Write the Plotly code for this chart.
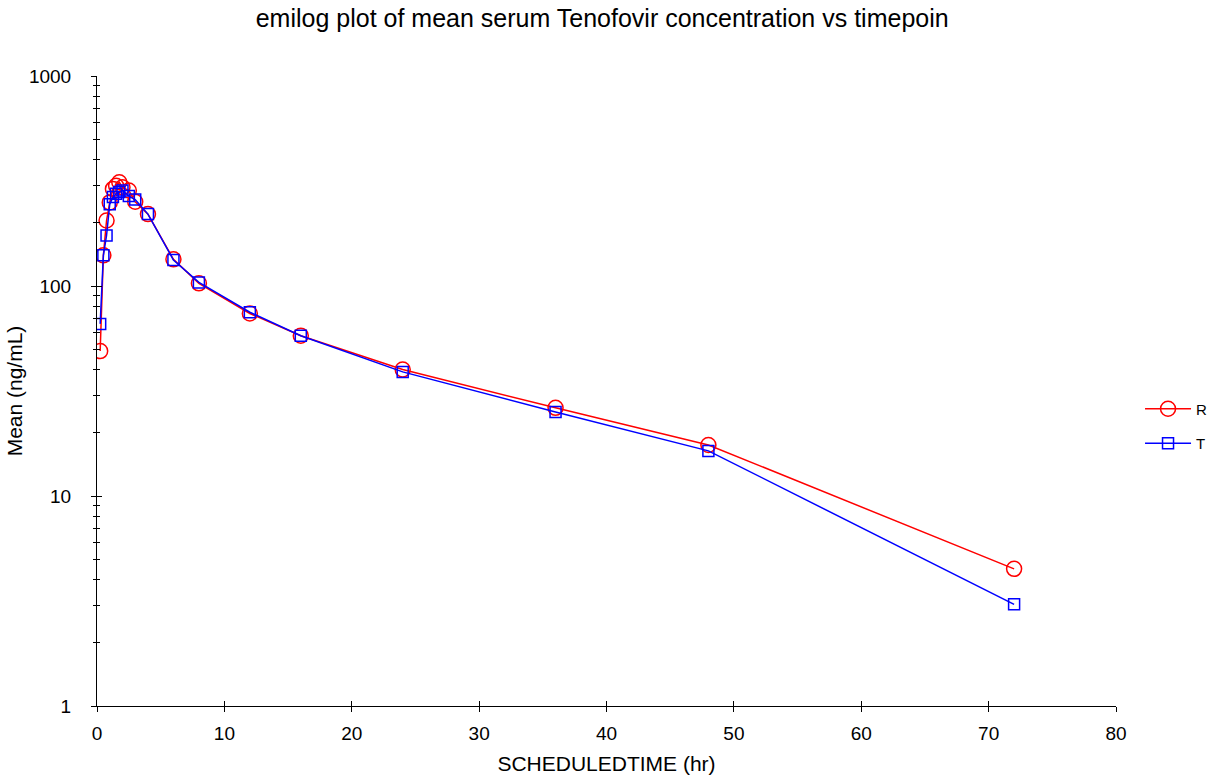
import plotly.graph_objects as go

# Sampling times (hr) and mean serum concentrations (ng/mL)
time_hr = [0.25, 0.5, 0.75, 1, 1.25, 1.5, 1.75, 2, 2.5, 3, 4, 6, 8, 12, 16, 24, 36, 48, 72]
mean_r = [49, 140, 205, 250, 290, 300, 312, 295, 285, 252, 220, 134, 103, 74, 58, 40, 26.3, 17.5, 4.5]
mean_t = [66, 140, 174, 245, 265, 275, 280, 285, 268, 258, 220, 133, 104, 75, 58, 39, 25.1, 16.4, 3.05]

x_ticks = [0, 10, 20, 30, 40, 50, 60, 70, 80]
y_ticks = [1, 10, 100, 1000]

FONT = "Liberation Sans, Arial, sans-serif"

# minor log ticks at 2..9 of every decade
y_minor = [m * d for d in (1, 10, 100) for m in range(2, 10)]

fig = go.Figure()
fig.add_trace(go.Scatter(
    x=time_hr, y=mean_r, name="R", mode="lines+markers",
    line=dict(color="#ff0000", width=1.5),
    marker=dict(symbol="circle-open", size=15, color="#ff0000", line=dict(width=1.5)),
    legendgroup="R",
))
fig.add_trace(go.Scatter(
    x=time_hr, y=mean_t, name="T", mode="lines+markers",
    line=dict(color="#0000ff", width=1.5),
    marker=dict(symbol="square-open", size=11, color="#0000ff", line=dict(width=1.5)),
    legendgroup="T",
))
# empty trace so the inner-tick overlay axes get drawn
fig.add_trace(go.Scatter(x=[], y=[], xaxis="x2", yaxis="y2", showlegend=False, hoverinfo="skip"))

axis_common = dict(showgrid=False, zeroline=False, linecolor="black", linewidth=1,
                   tickcolor="black", tickwidth=1, automargin=False)

fig.update_layout(
    width=1224, height=780,
    margin=dict(l=97, r=108, t=76, b=74),
    paper_bgcolor="white", plot_bgcolor="white",
    font=dict(family=FONT, color="black", size=19),
    title=dict(text="emilog plot of mean serum Tenofovir concentration vs timepoin",
               x=0.492, xanchor="center", y=0.977, yanchor="middle",
               font=dict(size=25, family=FONT, color="black")),
    xaxis=dict(range=[0, 80], tickvals=x_ticks, ticks="outside", ticklen=5,
               ticklabelstandoff=5,
               title=dict(text="SCHEDULEDTIME (hr)", standoff=13, font=dict(size=21)),
               showline=True, **axis_common),
    yaxis=dict(type="log", range=[0, 3], tickvals=y_ticks, ticktext=[str(v) for v in y_ticks],
               ticks="outside", ticklen=5, ticklabelstandoff=16,
               minor=dict(ticks="outside", ticklen=3, tickcolor="black", showgrid=False,
                          tickmode="array", tickvals=y_minor),
               title=dict(text="Mean (ng/mL)", standoff=0, font=dict(size=21)),
               showline=True, **axis_common),
    xaxis2=dict(range=[0, 80], tickvals=x_ticks, ticks="inside", ticklen=5, overlaying="x",
                showticklabels=False, showline=False, anchor="y2", **axis_common),
    yaxis2=dict(type="log", range=[0, 3], tickvals=y_ticks, ticks="inside", ticklen=5,
                minor=dict(ticks="inside", ticklen=3, tickcolor="black", showgrid=False,
                           tickmode="array", tickvals=y_minor),
                overlaying="y", showticklabels=False, showline=False, anchor="x2", **axis_common),
    showlegend=True,
    legend=dict(xref="container", yref="container", x=0.9314, xanchor="left",
                y=0.4538, yanchor="middle",
                font=dict(size=15, family=FONT), bgcolor="rgba(0,0,0,0)",
                traceorder="grouped", tracegroupgap=12, itemwidth=46),
)

fig.write_html("out.html")
